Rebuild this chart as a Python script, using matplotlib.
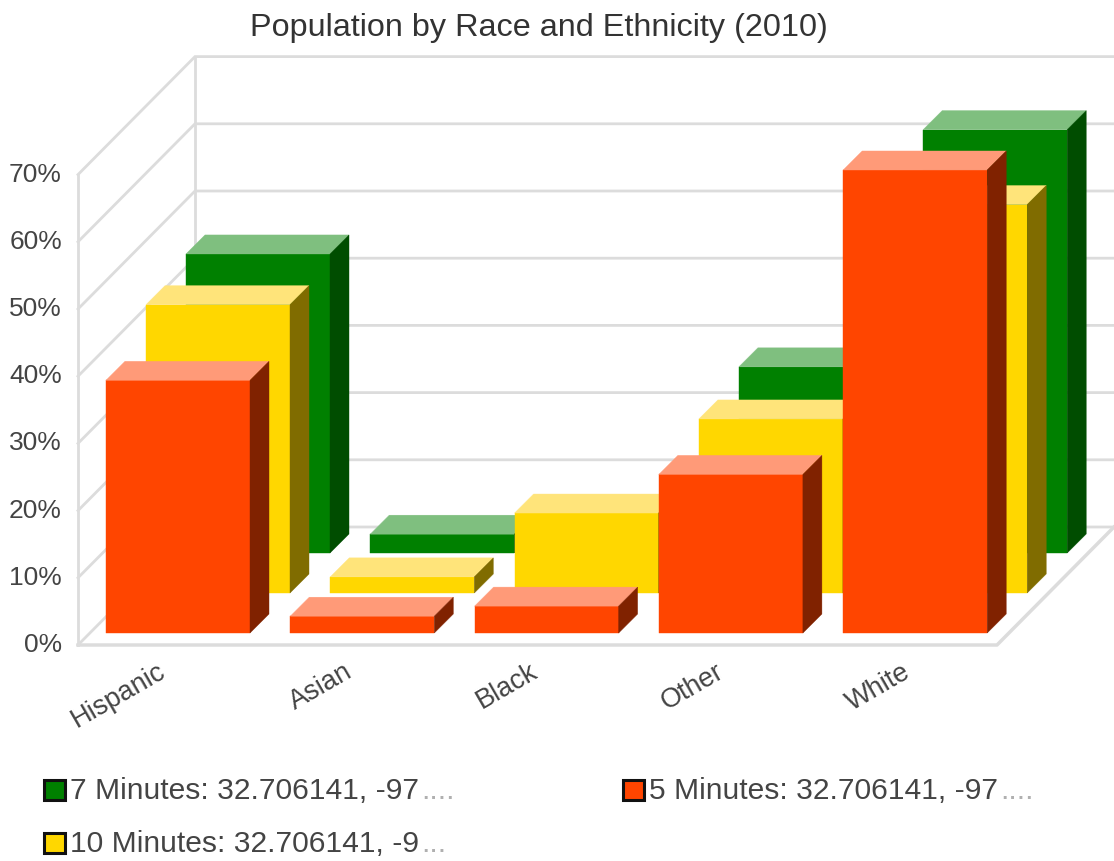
import matplotlib

matplotlib.use("Agg")
import matplotlib.pyplot as plt
from matplotlib.patches import Polygon, Rectangle

plt.rcParams["font.family"] = ["Liberation Sans", "DejaVu Sans"]

categories = ["Hispanic", "Asian", "Black", "Other", "White"]
tick_values = [0, 10, 20, 30, 40, 50, 60, 70]

# percent of population, one list per drive time
minutes_7 = [44.5, 2.8, 5.0, 27.7, 63.0]
minutes_10 = [42.9, 2.4, 11.9, 25.9, 57.8]
minutes_5 = [37.6, 2.5, 4.0, 23.6, 68.9]

legend_labels = [
    ("7 Minutes: 32.706141, -97", "...."),
    ("5 Minutes: 32.706141, -97", "...."),
    ("10 Minutes: 32.706141, -9", "..."),
]

# (front, top, side) shades
GREEN = ("#008000", "#7fbf7f", "#004d00")
YELLOW = ("#ffd700", "#ffe47a", "#806c00")
ORANGE = ("#ff4500", "#ff9a78", "#802200")

GRID = "#dcdcdc"
TEXT = "#444444"

# oblique projection of the box
FLOOR_X, FLOOR_Y = 78, 645
WALL_DX, WALL_DY = 117, -118
BOX_W = 919
UNIT = 6.72
SLOT = 184.3
ROW_DX, ROW_DY = 40.0, -40.0
BAR_W = 144
CAP_DX, CAP_DY = 19, -19
BAR_X0, BAR_Y0 = 106, 633


def draw_walls(axis):
    """
    Function to draw the floor, the left wall and the back wall grid
    """
    for val in tick_values:
        y_front = FLOOR_Y - val * UNIT
        y_back = y_front + WALL_DY
        x_back = FLOOR_X + WALL_DX
        axis.plot(
            [FLOOR_X, x_back, x_back + BOX_W],
            [y_front, y_back, y_back],
            color=GRID,
            lw=2,
            solid_joinstyle="miter",
            zorder=1,
        )
    y_top = FLOOR_Y - tick_values[-1] * UNIT
    axis.plot([FLOOR_X, FLOOR_X], [FLOOR_Y, y_top], color=GRID, lw=2, zorder=1)
    axis.plot(
        [FLOOR_X + WALL_DX, FLOOR_X + WALL_DX],
        [FLOOR_Y + WALL_DY, y_top + WALL_DY],
        color=GRID,
        lw=2,
        zorder=1,
    )
    axis.plot(
        [FLOOR_X, FLOOR_X + BOX_W, FLOOR_X + BOX_W + WALL_DX],
        [FLOOR_Y, FLOOR_Y, FLOOR_Y + WALL_DY],
        color=GRID,
        lw=2.5,
        zorder=1,
    )


def draw_bar(axis, slot, row, value, shades):
    """
    Function to draw one bar as front, top and side faces
    """
    left = BAR_X0 + slot * SLOT + row * ROW_DX
    right = left + BAR_W
    base = BAR_Y0 + row * ROW_DY
    top = base - value * UNIT
    front = [(left, base), (right, base), (right, top), (left, top)]
    roof = [
        (left, top),
        (right, top),
        (right + CAP_DX, top + CAP_DY),
        (left + CAP_DX, top + CAP_DY),
    ]
    side = [
        (right, base),
        (right + CAP_DX, base + CAP_DY),
        (right + CAP_DX, top + CAP_DY),
        (right, top),
    ]
    for face, color in zip([front, roof, side], shades):
        axis.add_patch(Polygon(face, closed=True, fc=color, ec=color, lw=0.3, zorder=3))


fig = plt.figure(figsize=(11.14, 8.61), dpi=100)
axis = fig.add_axes([0, 0, 1, 1])
axis.set_xlim(0, 1114)
axis.set_ylim(861, 0)
axis.axis("off")

draw_walls(axis)

# back row first so the nearer bars cover it
for row, (values, shades) in reversed(
    list(enumerate([(minutes_5, ORANGE), (minutes_10, YELLOW), (minutes_7, GREEN)]))
):
    for slot, value in enumerate(values):
        draw_bar(axis, slot, row, value, shades)

axis.text(
    539, 28, "Population by Race and Ethnicity (2010)",
    ha="center", va="center", fontsize=23.3, color="#333333",
)

for val in tick_values:
    axis.text(
        62, FLOOR_Y - val * UNIT, f"{val}%",
        ha="right", va="center", fontsize=19, color=TEXT,
    )

for slot, name in enumerate(categories):
    axis.text(
        164 + slot * 186, 670, name,
        ha="right", va="center", rotation=30, rotation_mode="anchor",
        fontsize=19.5, color=TEXT,
    )

renderer = fig.canvas.get_renderer()
legend_pos = [(44, 790), (623, 790), (44, 843)]
for (label, dots), (x_pos, y_pos), shades in zip(
    legend_labels, legend_pos, [GREEN, ORANGE, YELLOW]
):
    axis.add_patch(
        Rectangle((x_pos, y_pos - 10), 21, 20, fc=shades[0], ec="#111111", lw=2.2)
    )
    label_text = axis.text(
        x_pos + 26, y_pos + 9, label, ha="left", va="baseline",
        fontsize=21.6, color=TEXT,
    )
    box = label_text.get_window_extent(renderer)
    x_end = axis.transData.inverted().transform((box.x1, box.y0))[0]
    axis.text(
        x_end + 2, y_pos + 9, dots, ha="left", va="baseline",
        fontsize=21.6, color="#b0b0b0",
    )

fig.savefig("out.png", dpi=100)
plt.close()
